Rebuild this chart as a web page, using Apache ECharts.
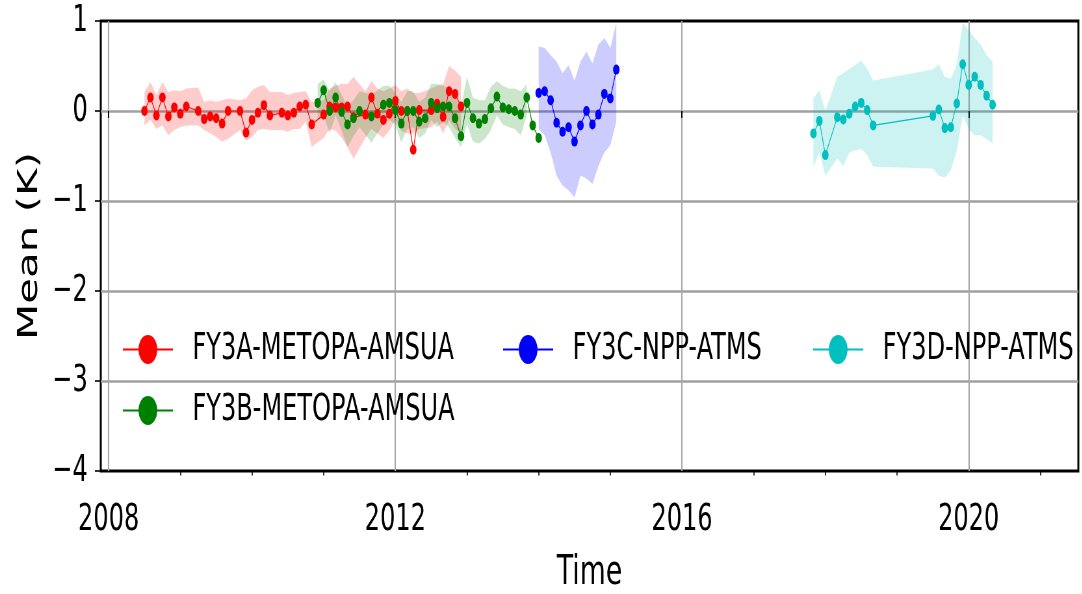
<!DOCTYPE html>
<html>
<head>
<meta charset="utf-8">
<script src="https://cdn.jsdelivr.net/npm/echarts@6/dist/echarts.min.js"></script>
<style>
  html, body { margin: 0; padding: 0; overflow: hidden; background: #fff; width: 1082px; height: 594px; }
  /* the figure is drawn wide and compressed horizontally */
  #chart { width: 1665px; height: 594px; transform: scaleX(0.65); transform-origin: 0 0; }
</style>
</head>
<body>
<div id="chart"></div>
<script>
const FONT = 'DejaVu Sans';

// FY3A-METOPA-AMSUA
const fy3aMonths = ['2008-07','2008-08','2008-09','2008-10','2008-11','2008-12','2009-01','2009-02','2009-04','2009-05','2009-06','2009-07','2009-08','2009-09','2009-11','2009-12','2010-01','2010-02','2010-03','2010-04','2010-06','2010-07','2010-08','2010-09','2010-10','2010-11','2011-01','2011-02','2011-03','2011-04','2011-05','2011-06','2011-08','2011-09','2011-10','2011-11','2011-12','2012-01','2012-02','2012-03','2012-04','2012-05','2012-07','2012-08','2012-09','2012-10','2012-11','2012-12'];
const fy3aMean  = [0.00,0.15,-0.05,0.15,-0.06,0.04,-0.03,0.05,0.00,-0.09,-0.06,-0.08,-0.14,0.00,0.00,-0.24,-0.10,-0.02,0.065,-0.05,-0.02,-0.05,-0.02,0.05,0.07,-0.15,-0.04,0.05,0.04,0.04,0.05,-0.07,-0.04,0.15,-0.03,-0.10,-0.03,0.11,0.00,0.00,-0.43,0.01,0.01,0.08,-0.065,0.22,0.19,0.05];
const fy3aUpper = [0.21,0.32,0.18,0.32,0.21,0.23,0.22,0.25,0.26,0.10,0.12,0.10,0.12,0.14,0.12,0.14,0.23,0.27,0.29,0.21,0.21,0.18,0.20,0.21,0.22,0.10,0.12,0.25,0.28,0.30,0.30,0.38,0.22,0.33,0.25,0.22,0.25,0.29,0.22,0.25,0.20,0.20,0.25,0.28,0.30,0.50,0.45,0.38];
const fy3aLower = [-0.16,-0.10,-0.20,-0.16,-0.27,-0.21,-0.18,-0.16,-0.16,-0.21,-0.25,-0.29,-0.34,-0.31,-0.21,-0.33,-0.29,-0.21,-0.20,-0.21,-0.21,-0.23,-0.20,-0.20,-0.12,-0.40,-0.30,-0.20,-0.22,-0.30,-0.40,-0.53,-0.30,-0.20,-0.25,-0.30,-0.22,-0.10,-0.22,-0.25,-0.25,-0.20,-0.18,-0.12,-0.25,-0.10,-0.20,-0.25];

// FY3B-METOPA-AMSUA
const fy3bMonths = ['2010-12','2011-01','2011-02','2011-03','2011-04','2011-05','2011-06','2011-07','2011-09','2011-11','2011-12','2012-01','2012-02','2012-03','2012-04','2012-05','2012-06','2012-07','2012-08','2012-09','2012-10','2012-11','2012-12','2013-01','2013-02','2013-03','2013-04','2013-05','2013-06','2013-07','2013-08','2013-09','2013-10','2013-11','2013-12','2014-01'];
const fy3bMean  = [0.09,0.23,0.00,0.15,-0.01,-0.15,-0.08,0.00,-0.06,0.07,0.09,0.01,-0.14,0.00,0.00,-0.12,-0.08,0.09,0.03,0.05,0.05,-0.08,-0.28,0.09,-0.08,-0.14,-0.09,0.03,0.16,0.04,0.02,0.00,-0.04,0.15,-0.16,-0.30];
const fy3bUpper = [0.30,0.35,0.22,0.32,0.18,0.05,0.12,0.22,0.18,0.28,0.28,0.20,0.10,0.22,0.22,0.10,0.15,0.30,0.30,0.28,0.25,0.15,0.05,0.38,0.15,0.12,0.12,0.27,0.33,0.28,0.25,0.25,0.22,0.30,null,null];
const fy3bLower = [-0.10,-0.05,-0.25,-0.05,-0.22,-0.40,-0.28,-0.18,-0.35,-0.15,-0.10,-0.15,-0.35,-0.20,-0.18,-0.30,-0.25,-0.10,-0.18,-0.12,-0.18,-0.30,-0.40,-0.15,-0.34,-0.36,-0.31,-0.21,-0.05,-0.15,-0.18,-0.20,-0.27,-0.05,null,null];

// FY3C-NPP-ATMS
const fy3cMonths = ['2014-01','2014-02','2014-03','2014-04','2014-05','2014-06','2014-07','2014-08','2014-09','2014-10','2014-11','2014-12','2015-01','2015-02'];
const fy3cMean  = [0.20,0.22,0.12,-0.13,-0.23,-0.18,-0.34,-0.16,0.00,-0.15,-0.04,0.19,0.14,0.46];
const fy3cUpper = [0.72,0.70,0.62,0.55,0.42,0.51,0.34,0.55,0.66,0.53,0.74,0.81,0.70,0.98];
const fy3cLower = [-0.20,-0.27,-0.46,-0.72,-0.83,-0.88,-0.96,-0.72,-0.75,-0.81,-0.61,-0.46,-0.38,-0.12];

// FY3D-NPP-ATMS
const fy3dMonths = ['2017-11','2017-12','2018-01','2018-03','2018-04','2018-05','2018-06','2018-07','2018-08','2018-09','2019-07','2019-08','2019-09','2019-10','2019-11','2019-12','2020-01','2020-02','2020-03','2020-04','2020-05'];
const fy3dMean  = [-0.25,-0.11,-0.49,-0.07,-0.095,-0.03,0.05,0.09,0.01,-0.16,-0.054,0.017,-0.19,-0.18,0.084,0.52,0.29,0.38,0.29,0.17,0.07];
const fy3dUpper = [0.14,0.23,0.00,0.38,0.42,0.47,0.51,0.56,0.47,0.34,0.46,0.52,0.38,0.36,0.51,0.98,0.90,0.81,0.74,0.62,0.55];
const fy3dLower = [-0.61,-0.46,-0.72,-0.53,-0.61,-0.46,-0.44,-0.42,-0.49,-0.62,-0.64,-0.72,-0.74,-0.66,-0.44,-0.05,-0.20,-0.27,-0.27,-0.31,-0.36];

// axis ticks
const majorYears = [2008, 2012, 2016, 2020];
const minorYears = [2009, 2010, 2011, 2013, 2014, 2015, 2017, 2018, 2019, 2021];

const groups = [
  { name: 'FY3A-METOPA-AMSUA', months: fy3aMonths, mean: fy3aMean, upper: fy3aUpper, lower: fy3aLower, color: '#ff0000', fill: 'rgba(255,0,0,0.2)' },
  { name: 'FY3B-METOPA-AMSUA', months: fy3bMonths, mean: fy3bMean, upper: fy3bUpper, lower: fy3bLower, color: '#008000', fill: 'rgba(0,128,0,0.2)' },
  { name: 'FY3C-NPP-ATMS',     months: fy3cMonths, mean: fy3cMean, upper: fy3cUpper, lower: fy3cLower, color: '#0000ff', fill: 'rgba(0,0,255,0.2)' },
  { name: 'FY3D-NPP-ATMS',     months: fy3dMonths, mean: fy3dMean, upper: fy3dUpper, lower: fy3dLower, color: '#00bfbf', fill: 'rgba(0,191,191,0.2)' }
];

function toYear(ym) {
  const [y, m] = ym.split('-').map(Number);
  return y + (m - 1) / 12;
}

// shaded spread band between lower and upper, drawn as one polygon
function bandSeries(g) {
  const pts = g.months.map(toYear)
    .map((x, k) => [x, g.lower[k], g.upper[k]])
    .filter(p => p[1] != null && p[2] != null);
  return {
    type: 'custom', silent: true, z: 1,
    data: pts,
    encode: { x: 0, y: [1, 2] },
    renderItem: (params, api) => {
      if (params.dataIndex !== 0) return null;
      const top = pts.map(p => api.coord([p[0], p[2]]));
      const bottom = pts.map(p => api.coord([p[0], p[1]])).reverse();
      return {
        type: 'polygon', silent: true,
        shape: { points: top.concat(bottom) },
        style: { fill: g.fill, stroke: null }
      };
    }
  };
}

const series = groups.map(bandSeries);
// mean lines with markers
groups.forEach(g => {
  const xs = g.months.map(toYear);
  series.push({
    name: g.name, type: 'line', symbol: 'circle', symbolSize: 10, z: 3,
    color: g.color,
    lineStyle: { color: g.color, width: 1.2 },
    itemStyle: { color: g.color },
    emphasis: { disabled: true },
    data: xs.map((x, k) => [x, g.mean[k]])
  });
});

function legendAt(name, left, top) {
  return {
    data: [name], left: left, top: top, orient: 'horizontal',
    itemWidth: 77, itemHeight: 36, itemGap: 0, padding: 0, selectedMode: false,
    textStyle: { fontFamily: FONT, fontSize: 37, color: '#000', padding: [0, 0, 0, 25] }
  };
}

const X_MIN = 2007.89, X_MAX = 2021.53;

const option = {
  animation: false,
  grid: {
    left: 155, right: 6, top: 21, bottom: 123, outerBoundsMode: 'none',
    show: true, borderColor: '#000', borderWidth: 3, backgroundColor: 'transparent'
  },
  legend: [
    legendAt(groups[0].name, 188, 331),
    legendAt(groups[1].name, 188, 392),
    legendAt(groups[2].name, 773, 331),
    legendAt(groups[3].name, 1250, 331)
  ],
  xAxis: [
    {
      type: 'value', min: X_MIN, max: X_MAX, position: 'bottom',
      name: 'Time', nameLocation: 'middle', nameGap: 82,
      nameTextStyle: { fontFamily: FONT, fontSize: 41, color: '#000' },
      axisLine: { show: false },
      axisTick: { show: true, customValues: majorYears, length: 7, lineStyle: { color: '#000', width: 2 } },
      axisLabel: { customValues: majorYears, margin: 31, fontFamily: FONT, fontSize: 37, color: '#000', formatter: v => String(Math.round(v)) },
      splitLine: { show: true, showMinLine: true, showMaxLine: true, lineStyle: { color: '#a8a8a8', width: 2.2 } }
    },
    {
      type: 'value', min: X_MIN, max: X_MAX, position: 'bottom',
      axisLine: { show: false },
      axisTick: { show: true, customValues: minorYears, length: 4.5, lineStyle: { color: '#000', width: 1.6 } },
      axisLabel: { show: false },
      splitLine: { show: false }
    }
  ],
  yAxis: {
    type: 'value', min: -4, max: 1, interval: 1,
    name: 'Mean (K)', nameLocation: 'middle', nameGap: 88,
    nameTextStyle: { fontFamily: FONT, fontSize: 42, color: '#000' },
    axisLine: { show: false },
    axisTick: { show: true, length: 9, lineStyle: { color: '#000', width: 1.6 } },
    axisLabel: { margin: 20, fontFamily: FONT, fontSize: 37, color: '#000', formatter: v => v < 0 ? '\u2212' + Math.abs(v) : String(v) },
    splitLine: { show: true, showMinLine: false, showMaxLine: false, lineStyle: { color: '#a0a0a0', width: 2.5 } }
  },
  series: series
};

const chart = echarts.init(document.getElementById('chart'), null, { renderer: 'canvas' });
chart.setOption(option);
</script>
</body>
</html>
